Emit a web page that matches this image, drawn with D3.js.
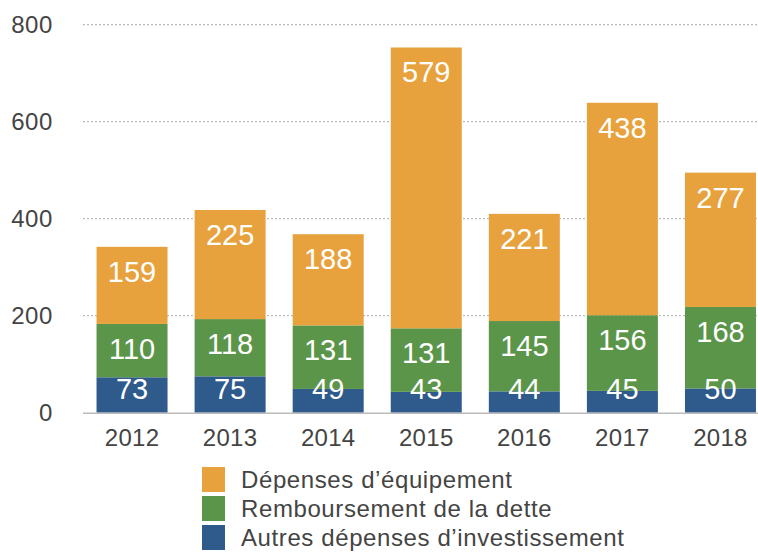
<!DOCTYPE html>
<html><head><meta charset="utf-8">
<script src="https://cdn.jsdelivr.net/npm/d3@7"></script>
<style>
body{margin:0;background:#fff;}
text{font-family:"Liberation Sans",Arial,Helvetica,sans-serif;}
</style></head>
<body><svg id="c" width="758" height="552"></svg>
<script>
const years = ["2012","2013","2014","2015","2016","2017","2018"];
const autres = [73,75,49,43,44,45,50];
const remboursement = [110,118,131,131,145,156,168];
const equipement = [159,225,188,579,221,438,277];
const yTicks = [0,200,400,600,800];
const seriesNames = ["Autres dépenses d’investissement","Remboursement de la dette","Dépenses d’équipement"];
const colors = ["#2E5A8C","#5B9549","#E8A23D"];

const svg = d3.select("#c");
const x = d3.scaleBand().domain(years).range([83, 769.5]).paddingInner(0.276).paddingOuter(0.138);
const y = d3.scaleLinear().domain([0,800]).range([412.7, 24.7]);

// gridlines
svg.append("g").selectAll("line").data(yTicks.filter(d=>d>0)).join("line")
  .attr("x1",83).attr("x2",758).attr("y1",d=>y(d)).attr("y2",d=>y(d))
  .attr("stroke","#aaa").attr("stroke-width",1).attr("stroke-dasharray","2,2");

// y labels
svg.append("g").selectAll("text").data(yTicks).join("text")
  .attr("x",53).attr("y",d=>y(d)).attr("dy","0.36em").attr("text-anchor","end")
  .attr("font-size",24).attr("letter-spacing",0.6).attr("fill","#444").text(d=>d);

const rows = years.map((yr,i)=>({year:yr, vals:[autres[i],remboursement[i],equipement[i]]}));
const stack = [];
rows.forEach(r=>{ let acc=0; r.vals.forEach((v,k)=>{ stack.push({year:r.year,k,v,y0:acc,y1:acc+v}); acc+=v; }); });

svg.append("g").selectAll("rect").data(stack).join("rect")
  .attr("x",d=>x(d.year)).attr("width",x.bandwidth())
  .attr("y",d=>y(d.y1)).attr("height",d=>y(d.y0)-y(d.y1))
  .attr("fill",d=>colors[d.k]);

// baseline
svg.append("line").attr("x1",83).attr("x2",758).attr("y1",y(0)+0.5).attr("y2",y(0)+0.5)
  .attr("stroke","#bbb").attr("stroke-width",1.5);

// value labels
svg.append("g").selectAll("text").data(stack).join("text")
  .attr("x",d=>x(d.year)+x.bandwidth()/2)
  .attr("y",d=> d.k===0 ? y(d.y0)-14 : y(d.y1)+35)
  .attr("text-anchor","middle").attr("font-size",29).attr("fill","#fff")
  .text(d=>d.v);

// x labels
svg.append("g").selectAll("text").data(years).join("text")
  .attr("x",d=>x(d)+x.bandwidth()/2).attr("y",446).attr("text-anchor","middle")
  .attr("font-size",24).attr("letter-spacing",0.3).attr("fill","#444").text(d=>d);

// legend
const legendOrder = [2,1,0];
const lg = svg.append("g").selectAll("g").data(legendOrder).join("g")
  .attr("transform",(d,i)=>`translate(202,${467+i*29})`);
lg.append("rect").attr("width",23).attr("height",25).attr("fill",d=>colors[d]);
lg.append("text").attr("x",39).attr("y",21).attr("font-size",24).attr("letter-spacing",0.6).attr("fill","#444").text(d=>seriesNames[d]);
</script></body></html>
